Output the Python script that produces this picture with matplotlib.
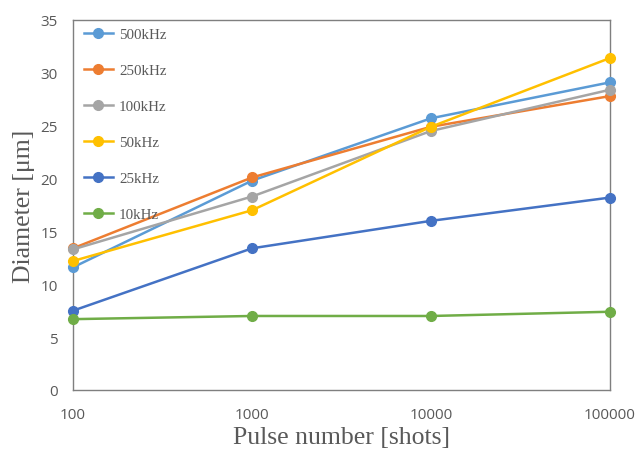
import matplotlib
matplotlib.use('Agg')
import matplotlib.pyplot as plt
from matplotlib.ticker import FixedLocator, FixedFormatter, NullLocator

# pulse numbers and measured diameters per repetition rate
shots = [100, 1000, 10000, 100000]
d_500k = [11.6, 19.8, 25.7, 29.1]
d_250k = [13.4, 20.1, 24.9, 27.8]
d_100k = [13.3, 18.3, 24.5, 28.4]
d_50k = [12.2, 17.0, 24.9, 31.4]
d_25k = [7.5, 13.4, 16.0, 18.2]
d_10k = [6.7, 7.0, 7.0, 7.4]

series = [
    ('500kHz', d_500k, '#5B9BD5'),
    ('250kHz', d_250k, '#ED7D31'),
    ('100kHz', d_100k, '#A5A5A5'),
    ('50kHz', d_50k, '#FFC000'),
    ('25kHz', d_25k, '#4472C4'),
    ('10kHz', d_10k, '#70AD47'),
]

fig = plt.figure(figsize=(6.37, 4.52), dpi=100)
ax = fig.add_axes([0.1146, 0.1350, 0.843, 0.8186])

for name, vals, col in series:
    ax.plot(shots, vals, color=col, linewidth=1.8, marker='o',
            markersize=7, label=name, clip_on=False, zorder=3)

ax.set_xscale('log')
ax.set_xlim(100, 100000)
ax.set_ylim(0, 35)
ax.xaxis.set_major_locator(FixedLocator(shots))
ax.xaxis.set_major_formatter(FixedFormatter([str(s) for s in shots]))
ax.xaxis.set_minor_locator(NullLocator())
ax.set_yticks(range(0, 36, 5))

ax.tick_params(length=0, labelsize=11, labelcolor='#595959')
ax.tick_params(axis='y', pad=11)
ax.tick_params(axis='x', pad=12)
for lab in ax.get_xticklabels() + ax.get_yticklabels():
    lab.set_family('Open Sans')
for sp in ax.spines.values():
    sp.set_color('#7F7F7F')
    sp.set_linewidth(1.0)

ax.set_xlabel('Pulse number [shots]', fontsize=18.5, family='Liberation Serif',
              color='#595959', labelpad=3)
ax.set_ylabel('Diameter [\u03bcm]', fontsize=18.5, family='Liberation Serif',
              color='#595959', labelpad=4)

leg = ax.legend(loc='upper left', frameon=False, labelspacing=1.5,
                handlelength=1.95, handletextpad=0.4,
                bbox_to_anchor=(0.009, 0.996), borderaxespad=0.0,
                prop={'family': 'Liberation Serif', 'size': 10.8})
for t in leg.get_texts():
    t.set_color('#595959')

fig.savefig('out.png', dpi=100)
